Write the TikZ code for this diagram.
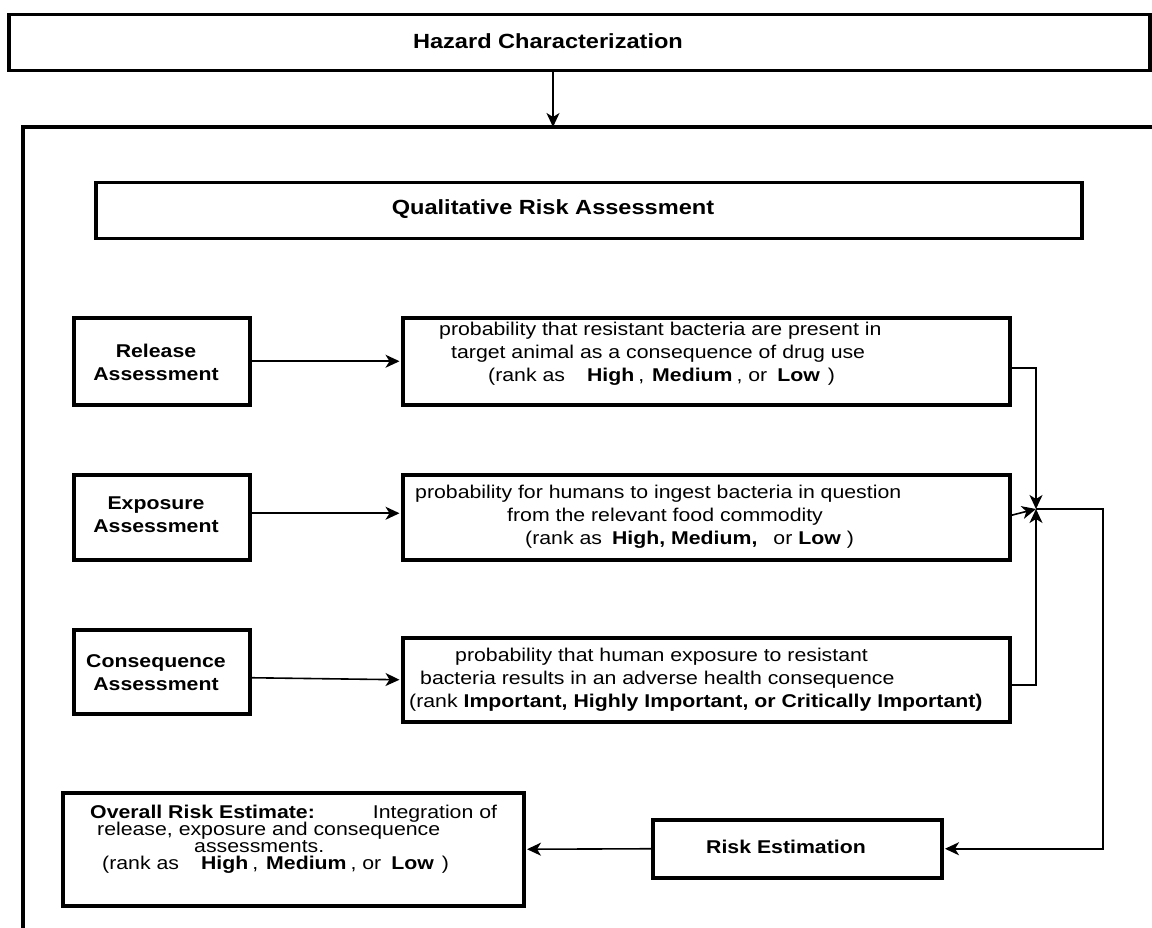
\documentclass[tikz,border=0pt]{standalone}
\usepackage{fontspec}
\setmainfont{Liberation Sans}[FakeStretch=1.15]
\usetikzlibrary{arrows.meta}
\begin{document}
\begin{tikzpicture}[x=1pt,y=-1pt,
  box/.style={draw, line width=3.5pt, inner sep=0pt, anchor=north west},
  frame/.style={line width=3.5pt},
  conn/.style={line width=1.6pt},
  arr/.style={conn, -{Stealth[length=14pt,width=13pt,inset=4pt]}},
  txt/.style={inner sep=0pt, font=\fontsize{18.5}{23}\selectfont},
  title/.style={inner sep=0pt, font=\fontsize{20.5}{24}\selectfont\bfseries},
  lefttxt/.style={txt, anchor=west, align=left},
  ctrtxt/.style={txt, align=center, font=\fontsize{18.5}{23}\selectfont\bfseries}
]
\useasboundingbox (0,0) rectangle (1152,928);

% boxes
\node[box, minimum width=1141pt, minimum height=56pt] (hazard) at (7,13) {};
\node[box, minimum width=986pt, minimum height=56pt] (qra) at (94,181) {};
\node[box, minimum width=176pt, minimum height=87pt] (rel) at (72,316) {};
\node[box, minimum width=607pt, minimum height=87pt] (relp) at (401,316) {};
\node[box, minimum width=176pt, minimum height=85pt] (exp) at (72,473) {};
\node[box, minimum width=607pt, minimum height=85pt] (expp) at (401,473) {};
\node[box, minimum width=176pt, minimum height=84pt] (con) at (72,628) {};
\node[box, minimum width=607pt, minimum height=84pt] (conp) at (401,636) {};
\node[box, minimum width=461pt, minimum height=113pt] (overall) at (61,791) {};
\node[box, minimum width=289pt, minimum height=58pt] (riskest) at (651,818) {};

% outer frame (only its top and left edges lie in the picture)
\coordinate (fTR) at (1152,127);
\coordinate (fTL) at (23,127);
\coordinate (fBL) at (23,928);
\coordinate (ftop) at (553,127);
\draw[frame] (fTR) -- (fTL) -- (fBL);

% texts
\node[title] (hazardT) at (548,41) {Hazard Characterization};
\node[title] (qraT) at (553,209) {Qualitative Risk Assessment};
\node[ctrtxt] (relT) at (156,362) {Release\\Assessment};
\node[ctrtxt] (expT) at (156,515) {Exposure\\Assessment};
\node[ctrtxt] (conT) at (156,673) {Consequence\\Assessment};
\node[ctrtxt] (riskestT) at (786,847) {Risk Estimation};

\node[lefttxt] (relpT) at (439,354) {probability that resistant bacteria are present in\\
\hspace*{12pt}target animal as a consequence of drug use\\
\hspace*{49pt}(rank as\hspace{22pt}\textbf{High}\hspace{4pt},\hspace{8pt}\textbf{Medium}\hspace{4pt}, or\hspace{10pt}\textbf{Low}\hspace{8pt})};

\node[lefttxt] (exppT) at (415,517) {probability for humans to ingest bacteria in question\\
\hspace*{92pt}from the relevant food commodity\\
\hspace*{110pt}(rank as\hspace{10pt}\textbf{High, Medium,}\hspace{16pt}or \textbf{Low}\hspace{6pt})};

\node[lefttxt] (conpT) at (409,680) {\hspace*{46pt}probability that human exposure to resistant\\
\hspace*{11pt}bacteria results in an adverse health consequence\\
(rank \textbf{Important, Highly Important, or Critically Important)}};

\node[lefttxt, font={\fontsize{18.5}{17}\selectfont\lineskiplimit=-30pt}] (overallT) at (90,839) {\textbf{Overall Risk Estimate:}\hspace{58pt}Integration of\\
\hspace*{7pt}release, exposure and consequence\\
\hspace*{104pt}assessments.\\
\hspace*{12pt}(rank as\hspace{22pt}\textbf{High}\hspace{4pt},\hspace{8pt}\textbf{Medium}\hspace{4pt}, or\hspace{10pt}\textbf{Low}\hspace{8pt})};

% connectors
\draw[arr] (hazard.south -| ftop) -- (ftop);
\draw[arr, shorten >=1.5pt] (rel.east) -- (relp.west);
\draw[arr, shorten >=1.5pt] ([yshift=4pt]exp.east) -- ([yshift=4pt]expp.west);
\draw[arr, shorten >=1.5pt] ([yshift=-6pt]con.east) -- (conp.west);

\coordinate (J) at (1036,509);
\coordinate (R) at (1103,509);
\draw[arr] ([yshift=-7pt]relp.east) -| (J);
\draw[arr] ([yshift=2pt]expp.east) -- (J);
\draw[arr] ([yshift=-5pt]conp.east) -| (J);
\draw[arr, shorten >=1.5pt] (J) -- (R) |- (riskest.east);
\draw[arr, shorten >=1.5pt] (riskest.west) -- (overall.east);
\end{tikzpicture}
\end{document}
